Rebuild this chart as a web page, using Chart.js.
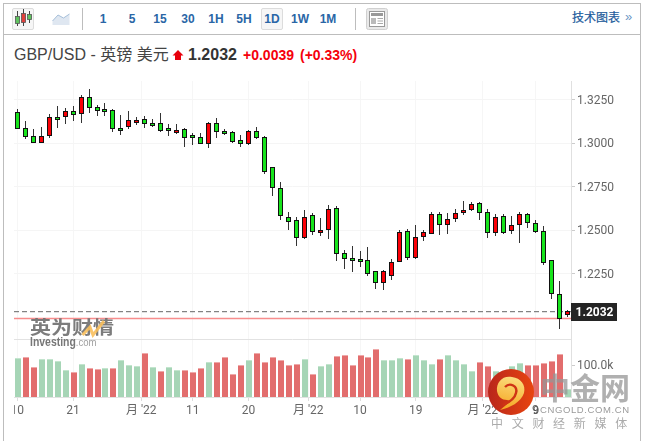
<!DOCTYPE html>
<html>
<head>
<meta charset="utf-8">
<title>GBP/USD</title>
<script src="https://cdn.jsdelivr.net/npm/chart.js@4"></script>
<style>
  html, body { margin: 0; padding: 0; background: #fff; }
  #page { position: relative; width: 645px; height: 441px; overflow: hidden; font-family: "Liberation Sans", "Noto Sans CJK SC", sans-serif; }
  #page > * { position: absolute; }
  .rule { background: #bdbdbd; }
  .tool { top: 8px; height: 22px; line-height: 23px; text-align: center; font-size: 12px; font-weight: bold; color: #2a66a6; width: 28px; }
  .boxed { background: #f6f6f6; border: 1px solid #dcdcdc; border-radius: 2px; box-sizing: border-box; }
  canvas { position: absolute; left: 0; top: 0; }
</style>
</head>
<body>
<div id="page">
  <!-- frame and toolbar -->
  <div class="rule" style="left:3px;top:3px;width:1px;height:438px"></div>
  <div class="rule" style="left:640px;top:3px;width:1px;height:438px"></div>
  <div class="rule" style="left:3px;top:3px;width:638px;height:1px"></div>
  <div class="rule" style="left:3px;top:34px;width:638px;height:1px"></div>
  <div class="rule" style="left:82px;top:8px;width:1px;height:22px"></div>
  <div class="rule" style="left:355px;top:8px;width:1px;height:22px"></div>

  <div class="boxed" style="left:12px;top:8px;width:22px;height:22px"></div>
  <svg style="left:12px;top:8px" width="22" height="22">
    <path d="M5.5 3V18M11.5 1V18M17.5 3V15" stroke="#444" stroke-width="1" fill="none"/>
    <rect x="3.5" y="8.5" width="4" height="7" fill="#5fc35f" stroke="#555" stroke-width=".8"/>
    <rect x="9.5" y="5.5" width="4" height="9" fill="#e0403c" stroke="#555" stroke-width=".8"/>
    <rect x="15.5" y="6.5" width="4" height="5" fill="#5fc35f" stroke="#555" stroke-width=".8"/>
  </svg>
  <svg style="left:52px;top:13px" width="18" height="13">
    <path d="M0.5 8L6 2L11.5 5L17.5 1V12H0.5Z" fill="#dfe7f1" stroke="none"/>
    <path d="M0.5 8L6 2L11.5 5L17.5 1" fill="none" stroke="#a6bfd9" stroke-width="1"/>
  </svg>

  <div class="tool" style="left:89px">1</div>
  <div class="tool" style="left:118px">5</div>
  <div class="tool" style="left:146px">15</div>
  <div class="tool" style="left:174px">30</div>
  <div class="tool" style="left:202px">1H</div>
  <div class="tool" style="left:230px">5H</div>
  <div class="tool boxed" style="left:261px;width:22px;line-height:21px">1D</div>
  <div class="tool" style="left:286px">1W</div>
  <div class="tool" style="left:314px">1M</div>

  <svg style="left:366px;top:8px" width="22" height="22">
    <rect x="0.5" y="0.5" width="21" height="21" rx="2" fill="#e9e9e9" stroke="#d0d0d0"/>
    <rect x="3.5" y="3.5" width="15" height="15" fill="#fff" stroke="#999"/>
    <rect x="5" y="5" width="12" height="3" fill="#999"/>
    <rect x="5" y="10" width="5" height="6" fill="#bbb"/>
    <path d="M11.5 10.5H17M11.5 13H17M11.5 15.5H17" stroke="#aaa" stroke-width="1"/>
  </svg>

  <div style="left:572px;top:10px;font-size:12px;line-height:16px;color:#1b5a9b;-webkit-text-stroke:.2px #1b5a9b">技术图表</div>
  <div style="left:625px;top:9px;font-size:13px;line-height:16px;color:#6d97c6">»</div>

  <!-- instrument headline -->
  <div style="left:14px;top:45px;font-size:16px;line-height:19px;color:#444;white-space:nowrap">GBP/USD - 英镑 美元</div>
  <svg style="left:172px;top:49px" width="12" height="12"><path d="M6 1L11.5 6.5H9V11H3V6.5H.5Z" fill="#e8000b"/></svg>
  <div style="left:188px;top:45px;font-size:16px;line-height:19px;font-weight:bold;color:#333">1.2032</div>
  <div style="left:243px;top:46px;font-size:14px;line-height:18px;font-weight:bold;color:#f5000b;white-space:nowrap">+0.0039</div>
  <div style="left:300px;top:46px;font-size:14px;line-height:18px;font-weight:bold;color:#f5000b;white-space:nowrap">(+0.33%)</div>

  <canvas id="chart" width="645" height="441"></canvas>

  <!-- publisher marks over the plot -->
  <div style="left:30px;top:315px;font-size:21px;line-height:23px;font-weight:bold;color:rgba(110,110,110,.9);white-space:nowrap;font-family:'Noto Sans CJK SC';transform:scaleY(.85)">英为财情</div>
  <svg style="left:78px;top:316px" width="30" height="22"><path d="M4.5 19L12 11L15 19L26 5" fill="none" stroke="#f8bf5c" stroke-width="3" opacity=".9"/></svg>
  <div style="left:30px;top:335px;font-size:12px;line-height:14px;color:#777;white-space:nowrap;transform:scaleX(.87);transform-origin:left center"><b>Investing</b><span style="color:#a0a0a0;font-size:11px">.com</span></div>

  <svg style="left:488px;top:369px" width="46" height="46">
    <defs>
      <linearGradient id="disc" x1="0" y1="0.5" x2="1" y2="0.5">
        <stop offset="0" stop-color="#b9261b"/>
        <stop offset="1" stop-color="#e8450f"/>
      </linearGradient>
      <linearGradient id="swirl" x1="0.5" y1="0" x2="0.3" y2="1">
        <stop offset="0" stop-color="#fbdc7c"/>
        <stop offset="1" stop-color="#f5a51f"/>
      </linearGradient>
    </defs>
    <circle cx="23" cy="23" r="23" fill="url(#disc)"/>
    <path d="M12 41C22 39 33 33 36 24C38 16 33 9 24 8C15 6 8 13 9 22C10 28 14 31 19 31L23 32Z" fill="url(#swirl)"/>
    <path d="M17 18C22 13 30 17 28 24C27 29 22 33 15 36" fill="none" stroke="#cf3415" stroke-width="2.4"/>
  </svg>
  <div style="left:540px;top:368px;font-size:30px;line-height:36px;font-weight:bold;color:rgba(150,150,150,.75);white-space:nowrap;font-family:'Noto Sans CJK SC'">中金网</div>
  <div style="left:533px;top:403px;font-size:11px;line-height:14px;color:#555;white-space:nowrap">9</div>
  <div style="left:540px;top:403px;font-size:9.5px;line-height:14px;color:#9a9a9a;white-space:nowrap;letter-spacing:.6px">CNGOLD.COM.CN</div>
  <div style="left:491px;top:415px;font-size:12px;line-height:16px;color:#ababab;white-space:nowrap;letter-spacing:8.7px;font-family:'Noto Sans CJK SC'">中文财经新媒体</div>
</div>

<script>
// Daily GBP/USD prices, oldest session first.
const opens = [
  1.3179, 1.3085, 1.3041, 1.3006, 1.3047, 1.3150, 1.3156, 1.3185, 1.3173, 1.3265,
  1.3208, 1.3196, 1.3191, 1.3087, 1.3098, 1.3122, 1.3139, 1.3116, 1.3116, 1.3087,
  1.3064, 1.3081, 1.3047, 1.3035, 1.3001, 1.3116, 1.3070, 1.3064, 1.3018, 1.3001,
  1.3070, 1.3035, 1.2863, 1.2742, 1.2575, 1.2558, 1.2460, 1.2586, 1.2489, 1.2506,
  1.2627, 1.2368, 1.2339, 1.2333, 1.2327, 1.2264, 1.2201, 1.2241, 1.2322, 1.2494,
  1.2345, 1.2466, 1.2483, 1.2592, 1.2535, 1.2569, 1.2604, 1.2621, 1.2656, 1.2604,
  1.2489, 1.2581, 1.2500, 1.2535, 1.2592, 1.2540, 1.2494, 1.2327, 1.2132, 1.2017
];
const highs = [
  1.3196, 1.3127, 1.3081, 1.3093, 1.3167, 1.3214, 1.3200, 1.3214, 1.3277, 1.3308,
  1.3219, 1.3231, 1.3196, 1.3162, 1.3185, 1.3150, 1.3156, 1.3139, 1.3173, 1.3110,
  1.3110, 1.3087, 1.3058, 1.3058, 1.3122, 1.3146, 1.3081, 1.3070, 1.3047, 1.3075,
  1.3093, 1.3041, 1.2863, 1.2776, 1.2604, 1.2575, 1.2615, 1.2598, 1.2569, 1.2644,
  1.2638, 1.2385, 1.2408, 1.2379, 1.2402, 1.2264, 1.2270, 1.2333, 1.2500, 1.2506,
  1.2529, 1.2500, 1.2604, 1.2604, 1.2598, 1.2621, 1.2667, 1.2661, 1.2661, 1.2621,
  1.2592, 1.2592, 1.2581, 1.2604, 1.2598, 1.2558, 1.2523, 1.2327, 1.2207, 1.2040
];
const lows = [
  1.3087, 1.3029, 1.3005, 1.3005, 1.3035, 1.3093, 1.3116, 1.3133, 1.3122, 1.3179,
  1.3162, 1.3162, 1.3070, 1.3052, 1.3087, 1.3110, 1.3093, 1.3098, 1.3070, 1.3047,
  1.3058, 1.2981, 1.2995, 1.2999, 1.2976, 1.3035, 1.3052, 1.3006, 1.2983, 1.2995,
  1.3029, 1.2828, 1.2701, 1.2563, 1.2506, 1.2414, 1.2454, 1.2477, 1.2469, 1.2454,
  1.2327, 1.2281, 1.2264, 1.2293, 1.2241, 1.2166, 1.2161, 1.2218, 1.2322, 1.2333,
  1.2339, 1.2443, 1.2483, 1.2477, 1.2483, 1.2552, 1.2592, 1.2615, 1.2563, 1.2460,
  1.2471, 1.2483, 1.2483, 1.2431, 1.2517, 1.2489, 1.2305, 1.2109, 1.1936, 1.2005
];
const closes = [
  1.3087, 1.3041, 1.3006, 1.3041, 1.3150, 1.3137, 1.3185, 1.3167, 1.3265, 1.3208,
  1.3191, 1.3185, 1.3087, 1.3075, 1.3133, 1.3133, 1.3116, 1.3104, 1.3075, 1.3075,
  1.3075, 1.3035, 1.3035, 1.3001, 1.3116, 1.3070, 1.3058, 1.3012, 1.3001, 1.3070,
  1.3035, 1.2840, 1.2748, 1.2586, 1.2552, 1.2460, 1.2575, 1.2494, 1.2500, 1.2621,
  1.2368, 1.2339, 1.2327, 1.2322, 1.2253, 1.2201, 1.2264, 1.2316, 1.2489, 1.2345,
  1.2460, 1.2489, 1.2592, 1.2535, 1.2563, 1.2598, 1.2615, 1.2650, 1.2604, 1.2489,
  1.2575, 1.2489, 1.2529, 1.2592, 1.2546, 1.2494, 1.2316, 1.2138, 1.1993, 1.2032
];

// Traded volume in thousands, with the side each volume bar is coloured by.
const volumes = [
  122, 125, 94, 119, 119, 113, 84, 78, 103, 90,
  87, 90, 90, 116, 100, 97, 138, 94, 81, 94,
  84, 84, 78, 90, 109, 109, 125, 72, 100, 116,
  138, 109, 125, 116, 100, 103, 119, 72, 97, 103,
  128, 131, 100, 131, 125, 150, 116, 116, 122, 119,
  131, 116, 103, 119, 131, 116, 103, 81, 109, 97,
  81, 75, 97, 106, 100, 100, 106, 112, 135, 24
];
const volumeSides = [
  'g','r','r','g','g','g','g','r','g','r',
  'r','g','r','g','g','g','r','g','r','g',
  'g','r','r','r','g','r','r','r','r','g',
  'r','r','r','r','r','r','g','r','g','g',
  'r','r','r','r','r','r','g','g','g','r',
  'g','g','g','r','g','g','g','g','r','r',
  'g','g','g','g','r','r','r','r','r','g'
];

// Date axis: session positions of the labelled ticks and their captions.
const dateTickPositions = [0, 7, 15.56, 22, 29, 36.5, 43, 50, 58.4, 65];
const dateTickLabels = ['10', '21', '月 \'22', '11', '20', '月 \'22', '10', '19', '月 \'22', '9'];

const priceTicks = [1.225, 1.25, 1.275, 1.3, 1.325];
const volumeTicks = [100];

const lastPrice = 1.2032;
const previousClose = 1.1993;

// Visible windows of the three scales.
const sessionRange = [-0.414, 69.47];
const priceRange = [1.18749, 1.33593];
const volumeMax = 183;

const sessions = opens.map((_, i) => i);
const isUp = i => closes[i] >= opens[i];

// Squares the bars onto whole pixels so candle edges stay crisp and short bodies keep their fill.
const pixelSnap = {
  id: 'pixelSnap',
  beforeDatasetsDraw(chart) {
    chart.getSortedVisibleDatasetMetas().forEach(meta => {
      if (meta.type !== 'bar') return;
      meta.data.forEach(bar => {
        const top = Math.floor(Math.min(bar.y, bar.base));
        const bottom = Math.ceil(Math.max(bar.y, bar.base));
        bar.x = bar.width % 2 === 0 ? Math.floor(bar.x) + 1 : Math.floor(bar.x) + 0.5;
        bar.y = top;
        bar.base = bottom;
      });
    });
  }
};

// Last-price flag on the axis; the first date caption is cut off at the plot edge.
const priceFlag = {
  id: 'priceFlag',
  afterDraw(chart) {
    const { ctx, chartArea, scales } = chart;
    const y = scales.price.getPixelForValue(lastPrice);
    ctx.save();
    ctx.fillStyle = '#242424';
    ctx.fillRect(chartArea.right, Math.round(y) - 9, 46, 18);
    ctx.fillStyle = '#fff';
    ctx.font = 'bold 12px Roboto';
    ctx.textAlign = 'center';
    ctx.textBaseline = 'middle';
    ctx.fillText(lastPrice.toFixed(4), chartArea.right + 23.5, Math.round(y) + 0.5);
    ctx.clearRect(0, chartArea.bottom + 3, chartArea.left, 30);
    ctx.restore();
  }
};

const tickFont = { family: "Roboto, 'Noto Sans CJK SC'", size: 12 };
// An empty first line with a 2px line height nudges the axis captions down by one pixel.
const axisLabelFont = { family: tickFont.family, size: 12, lineHeight: '2px' };

new Chart(document.getElementById('chart'), {
  type: 'bar',
  plugins: [pixelSnap, priceFlag],
  data: {
    datasets: [
      {
        type: 'line',
        yAxisID: 'price',
        order: 5,
        data: sessionRange.map(x => ({ x, y: lastPrice })),
        borderColor: '#666',
        borderWidth: 1,
        borderDash: [5, 3],
        pointRadius: 0
      },
      {
        type: 'line',
        yAxisID: 'price',
        order: 5,
        data: sessionRange.map(x => ({ x, y: previousClose })),
        borderColor: '#f78d8d',
        borderWidth: 1.5,
        pointRadius: 0
      },
      {
        yAxisID: 'price',
        order: 3,
        grouped: false,
        barThickness: 1,
        inflateAmount: 0,
        borderWidth: 0,
        backgroundColor: '#333',
        data: sessions.map(i => ({ x: i, y: [lows[i], highs[i]] }))
      },
      {
        yAxisID: 'price',
        order: 2,
        grouped: false,
        barThickness: 5,
        inflateAmount: 0,
        borderWidth: 1,
        borderSkipped: false,
        borderColor: '#111',
        backgroundColor: sessions.map(i => isUp(i) ? '#fb0007' : '#17e41c'),
        data: sessions.map(i => ({ x: i, y: [opens[i], closes[i]] }))
      },
      {
        yAxisID: 'volume',
        order: 4,
        grouped: false,
        barThickness: 6,
        inflateAmount: 0,
        borderWidth: { top: 1, left: 0, right: 0, bottom: 0 },
        borderSkipped: false,
        borderColor: volumeSides.map(s => s === 'r' ? '#efa9a9' : '#c3e5ce'),
        backgroundColor: volumeSides.map(s => s === 'r' ? '#e26d6d' : '#a6d5b6'),
        data: sessions.map(i => ({ x: i, y: volumes[i] }))
      }
    ]
  },
  options: {
    responsive: false,
    animation: false,
    devicePixelRatio: 1,
    layout: { padding: { left: 14, top: 81, right: 24, bottom: 19 } },
    plugins: { legend: { display: false }, tooltip: { enabled: false } },
    scales: {
      x: {
        type: 'linear',
        offset: false,
        min: sessionRange[0],
        max: sessionRange[1],
        grid: { offset: false, color: '#f6f6f6', tickColor: '#ddd', tickLength: 4 },
        border: { color: '#e2e2e2' },
        afterBuildTicks(axis) { axis.ticks = dateTickPositions.map(value => ({ value })); },
        afterFit(axis) { axis.height = 25; },
        ticks: {
          autoSkip: false,
          maxRotation: 0,
          padding: 3,
          color: '#666',
          font: tickFont,
          callback: (value, index) => dateTickLabels[index]
        }
      },
      price: {
        position: 'right',
        stack: 'panels',
        stackWeight: 258,
        min: priceRange[0],
        max: priceRange[1],
        grid: { color: '#f5f5f5', tickColor: '#ccc', tickLength: 4 },
        border: { color: '#e0e0e0' },
        afterBuildTicks(axis) { axis.ticks = priceTicks.map(value => ({ value })); },
        afterFit(axis) { axis.width = 50; },
        ticks: { padding: 2, color: '#666', font: axisLabelFont, callback: v => ['', v.toFixed(4)] }
      },
      volume: {
        position: 'right',
        stack: 'panels',
        stackWeight: 58,
        min: 0,
        max: volumeMax,
        grid: {
          color: c => c.tick && c.tick.value === volumeMax ? '#e2e2e2' : 'transparent',
          tickColor: c => c.tick && c.tick.value === volumeMax ? 'transparent' : '#ccc',
          tickLength: 4
        },
        border: { color: '#e0e0e0' },
        afterBuildTicks(axis) { axis.ticks = volumeTicks.concat(volumeMax).map(value => ({ value })); },
        afterFit(axis) { axis.width = 50; },
        ticks: { padding: 2, color: '#666', font: axisLabelFont, callback: v => v === volumeMax ? '' : ['', v.toFixed(1) + 'k'] }
      }
    }
  }
});
</script>
</body>
</html>
